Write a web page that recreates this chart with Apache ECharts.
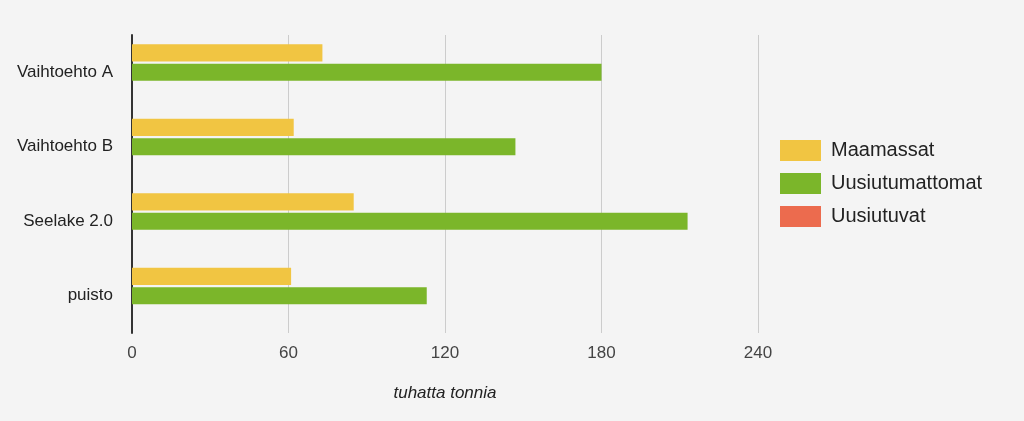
<!DOCTYPE html>
<html>
<head>
<meta charset="utf-8">
<script src="https://cdn.jsdelivr.net/npm/echarts@6/dist/echarts.min.js"></script>
<style>
  html, body { margin: 0; padding: 0; background: #f4f4f4; }
  #chart { width: 1024px; height: 421px; }
</style>
</head>
<body>
<div id="chart"></div>
<script>
  const categories = ['Vaihtoehto A', 'Vaihtoehto B', 'Seelake 2.0', 'puisto'];
  const maamassat = [73, 62, 85, 61];
  const uusiutumattomat = [180, 147, 213, 113];
  const uusiutuvat = [0, 0, 0, 0];
  const seriesNames = ['Maamassat', 'Uusiutumattomat', 'Uusiutuvat'];
  const color = ['#F1C542', '#7BB62A', '#EC6B4E'];

  const font = 'Arial, "Liberation Sans", sans-serif';
  const values = [maamassat, uusiutumattomat, uusiutuvat];

  const option = {
    backgroundColor: '#f4f4f4',
    color: color,
    animation: false,
    grid: { left: 132, right: 266, top: 35, bottom: 88 },
    legend: {
      orient: 'vertical',
      left: 780,
      top: 140,
      padding: 0,
      itemWidth: 41,
      itemHeight: 21,
      itemGap: 12,
      icon: 'rect',
      data: seriesNames,
      textStyle: {
        fontFamily: font,
        fontSize: 20,
        lineHeight: 21,
        color: '#222',
        padding: [0, 0, 0, 5]
      }
    },
    xAxis: {
      type: 'value',
      min: 0,
      max: 240,
      interval: 60,
      name: 'tuhatta tonnia',
      nameLocation: 'middle',
      nameGap: 52,
      nameTextStyle: { fontFamily: font, fontSize: 17, fontStyle: 'italic', color: '#222' },
      axisLine: { show: false },
      axisTick: { show: false },
      axisLabel: { fontFamily: font, fontSize: 17, color: '#444', margin: 12 },
      splitLine: { lineStyle: { color: '#cccccc', width: 1 } }
    },
    yAxis: {
      type: 'category',
      data: categories,
      inverse: true,
      axisLine: { lineStyle: { color: '#333', width: 2 } },
      axisTick: { show: false },
      axisLabel: { fontFamily: font, fontSize: 17, color: '#222', margin: 19 }
    },
    series: seriesNames.map((name, i) => ({
      name: name,
      type: 'bar',
      data: values[i],
      barCategoryGap: '25%',
      barGap: '12%'
    }))
  };

  const chart = echarts.init(document.getElementById('chart'));
  chart.setOption(option);
</script>
</body>
</html>
